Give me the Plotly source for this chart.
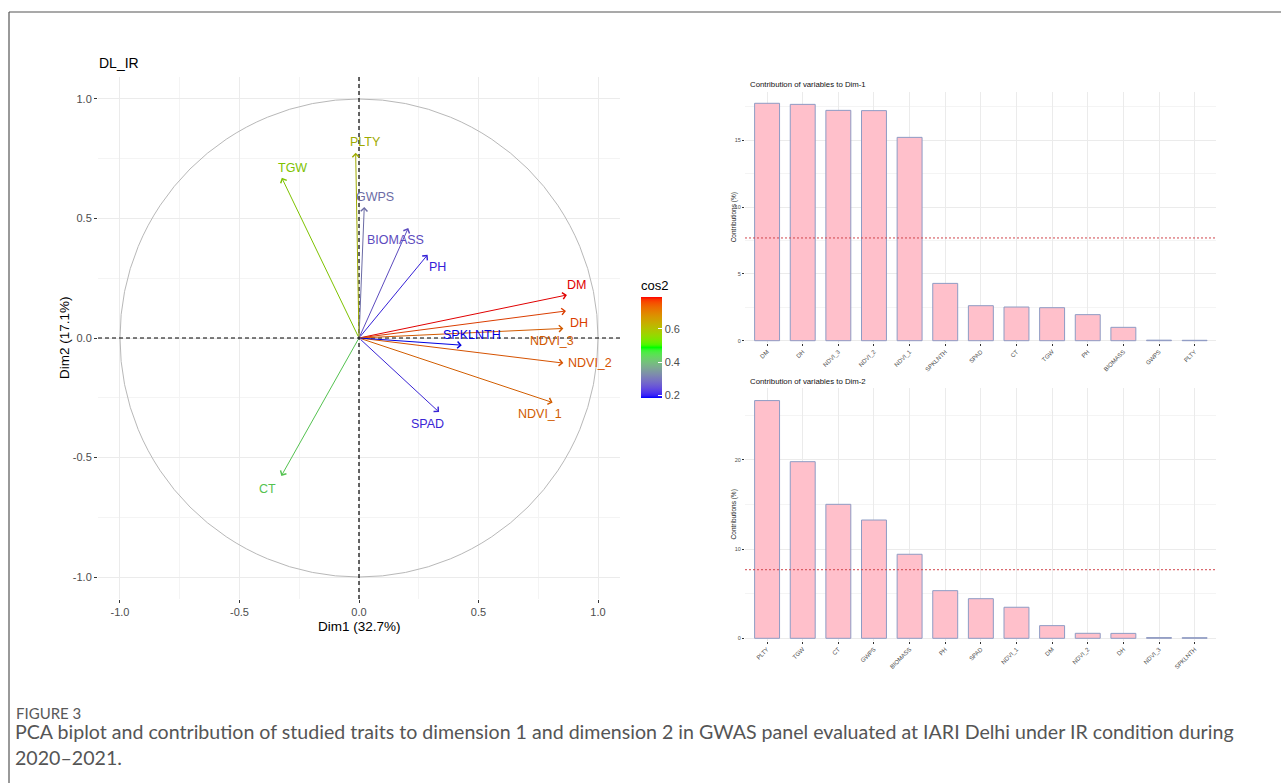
import numpy as np
import plotly.graph_objects as go

# ---------------- data ----------------
variables = ["DM", "DH", "NDVI_3", "NDVI_2", "NDVI_1", "SPKLNTH", "SPAD",
             "CT", "TGW", "PH", "BIOMASS", "GWPS", "PLTY"]
dim1_coord = [0.870, 0.866, 0.855, 0.855, 0.810, 0.430, 0.335,
              -0.325, -0.323, 0.287, 0.206, 0.022, -0.014]
dim2_coord = [0.180, 0.113, 0.040, -0.105, -0.270, -0.030, -0.310,
              -0.577, 0.670, 0.348, 0.460, 0.548, 0.775]

contrib1_vars = ["DM", "DH", "NDVI_3", "NDVI_2", "NDVI_1", "SPKLNTH", "SPAD",
                 "CT", "TGW", "PH", "BIOMASS", "GWPS", "PLTY"]
contrib1_vals = [17.77, 17.69, 17.24, 17.22, 15.22, 4.29, 2.62,
                 2.52, 2.47, 1.95, 1.00, 0.04, 0.03]

contrib2_vars = ["PLTY", "TGW", "CT", "GWPS", "BIOMASS", "PH", "SPAD",
                 "NDVI_1", "DM", "NDVI_2", "DH", "NDVI_3", "SPKLNTH"]
contrib2_vals = [26.65, 19.80, 15.02, 13.26, 9.42, 5.34, 4.44,
                 3.48, 1.42, 0.56, 0.55, 0.08, 0.07]

expected_contrib = 7.69  # uniform contribution, 100 / 13 variables

# label placement around arrow tips (pixels: right, down)
label_offset = {
    "DM": (10, -10), "DH": (13, 12), "NDVI_3": (-11, 13), "NDVI_2": (27, 0),
    "NDVI_1": (-13, 11), "SPKLNTH": (10, -10), "SPAD": (-12, 12),
    "CT": (-14, 13), "TGW": (11, -10), "PH": (10, 12), "BIOMASS": (-13, 12),
    "GWPS": (11, -10), "PLTY": (10, -11),
}

W, H = 1281, 783


def px_x(p):
    return p / W


def px_y(p):
    return 1 - p / H


# ---------------- colour ramp (blue -> green -> red, Lab interpolation) ----------------
def _to_lin(c):
    c = np.asarray(c, float) / 255.0
    return np.where(c <= 0.04045, c / 12.92, ((c + 0.055) / 1.055) ** 2.4)


def _from_lin(c):
    c = np.clip(c, 0, 1)
    return np.where(c <= 0.0031308, 12.92 * c, 1.055 * c ** (1 / 2.4) - 0.055) * 255


M = np.array([[0.4124, 0.3576, 0.1805],
              [0.2126, 0.7152, 0.0722],
              [0.0193, 0.1192, 0.9505]])
WHITE = np.array([0.95047, 1.0, 1.08883])


def rgb2lab(rgb):
    xyz = M @ _to_lin(rgb) / WHITE
    f = np.where(xyz > 0.008856, np.cbrt(xyz), 7.787 * xyz + 16 / 116)
    return np.array([116 * f[1] - 16, 500 * (f[0] - f[1]), 200 * (f[1] - f[2])])


def lab2rgb(lab):
    fy = (lab[0] + 16) / 116
    fx = fy + lab[1] / 500
    fz = fy - lab[2] / 200
    f = np.array([fx, fy, fz])
    xyz = np.where(f ** 3 > 0.008856, f ** 3, (f - 16 / 116) / 7.787) * WHITE
    return _from_lin(np.linalg.solve(M, xyz))


ramp = [rgb2lab([0, 0, 255]), rgb2lab([0, 255, 0]), rgb2lab([255, 0, 0])]


def ramp_rgb(t):
    t = float(np.clip(t, 0, 1))
    if t <= 0.5:
        a, b, u = ramp[0], ramp[1], t * 2
    else:
        a, b, u = ramp[1], ramp[2], (t - 0.5) * 2
    return lab2rgb(a + (b - a) * u)


def css(rgb, k=1.0):
    r, g, b = (np.asarray(rgb) * k).round().astype(int)
    return f"rgb({r},{g},{b})"


cos2 = [x * x + y * y for x, y in zip(dim1_coord, dim2_coord)]
cmin, cmax = min(cos2), max(cos2)
colorscale = [[float(t), css(ramp_rgb(t))] for t in np.linspace(0, 1, 41)]
# thin strokes drawn a touch darker so they read like the anti-aliased lines
arrow_colors = [css(ramp_rgb((c - cmin) / (cmax - cmin)), 0.88) for c in cos2]

# ---------------- figure ----------------
fig = go.Figure()

GRID = "#EBEBEB"
MINOR = "#F4F4F4"
TICKC = "#4D4D4D"
FONT = "Liberation Sans, Arial, sans-serif"

# biplot panel (pixels)
bx0, bx1, by0, by1 = 98, 620, 77, 599
lim = 1.092

# colour bar carrier (invisible markers)
fig.add_trace(go.Scatter(
    x=dim1_coord, y=dim2_coord, mode="markers", xaxis="x", yaxis="y",
    marker=dict(size=0.1, opacity=0, color=cos2, colorscale=colorscale,
                cmin=cmin, cmax=cmax, showscale=True,
                colorbar=dict(
                    title=dict(text="cos2", side="top",
                               font=dict(size=13, color="#000", family=FONT)),
                    x=px_x(641), xanchor="left", y=px_y(398), yanchor="bottom",
                    lenmode="pixels", len=121, thicknessmode="pixels", thickness=21,
                    outlinewidth=0, ticks="inside", ticklen=4, tickcolor="white",
                    tickvals=[0.2, 0.4, 0.6], ticktext=["0.2", "0.4", "0.6"],
                    tickfont=dict(size=11, color=TICKC, family=FONT), xpad=0, ypad=0,
                )),
    hoverinfo="skip", showlegend=False,
))

# correlation circle
fig.add_shape(type="circle", xref="x", yref="y", x0=-1, y0=-1, x1=1, y1=1,
              line=dict(color="#B8B8B8", width=1), layer="above")
# axes through origin
fig.add_shape(type="line", xref="x", yref="y", x0=-lim, x1=lim, y0=0, y1=0,
              line=dict(color="#000", width=1.2, dash="4px,3px"), layer="above")
fig.add_shape(type="line", xref="x", yref="y", x0=0, x1=0, y0=-lim, y1=lim,
              line=dict(color="#000", width=1.2, dash="4px,3px"), layer="above")

annotations = []
for v, x, y, col in zip(variables, dim1_coord, dim2_coord, arrow_colors):
    annotations.append(dict(
        x=x, y=y, ax=0, ay=0, xref="x", yref="y", axref="x", ayref="y",
        text="", showarrow=True, arrowhead=4, arrowsize=1.3, arrowwidth=1,
        arrowcolor=col, standoff=0,
    ))
    dx, dy = label_offset[v]
    annotations.append(dict(
        x=x, y=y, xref="x", yref="y", text=v, showarrow=False,
        xshift=dx, yshift=-dy, xanchor="center", yanchor="middle",
        font=dict(size=12.5, color=col, family=FONT),
    ))

# biplot texts
annotations += [
    dict(x=px_x(bx0 - 1), y=px_y(63), xref="paper", yref="paper", text="DL_IR",
         showarrow=False, xanchor="left", yanchor="middle",
         font=dict(size=14, color="#000", family=FONT)),
    dict(x=px_x((bx0 + bx1) / 2), y=px_y(626), xref="paper", yref="paper",
         text="Dim1 (32.7%)", showarrow=False, xanchor="center", yanchor="middle",
         font=dict(size=13.5, color="#000", family=FONT)),
    dict(x=px_x(65), y=px_y((by0 + by1) / 2), xref="paper", yref="paper",
         text="Dim2 (17.1%)", showarrow=False, textangle=-90,
         xanchor="center", yanchor="middle",
         font=dict(size=13.5, color="#000", family=FONT)),
]

# ---------------- contribution bar charts ----------------
cx0, cx1 = 745, 1216
panels = [
    # (axis suffix, vars, values, top px, zero px, px per unit, bottom px, title, title y, ticks)
    ("2", contrib1_vars, contrib1_vals, 91.7, 340.7, 13.36, 343.0,
     "Contribution of variables to Dim-1", 84, [0, 5, 10, 15]),
    ("3", contrib2_vars, contrib2_vals, 388.3, 638.3, 8.92, 640.5,
     "Contribution of variables to Dim-2", 381, [0, 10, 20]),
]

layout_axes = {}
for suf, cats, vals, ptop, pzero, ppu, pbot, title, ty, yt in panels:
    xa, ya = "x" + suf, "y" + suf
    fig.add_trace(go.Bar(
        x=list(range(len(cats))), y=vals, xaxis=xa, yaxis=ya, width=0.7,
        marker=dict(color="pink", line=dict(color="#8E9BC4", width=1)),
        hoverinfo="skip", showlegend=False,
    ))
    fig.add_shape(type="line", xref=xa, yref=ya, x0=-0.62, x1=12.6,
                  y0=expected_contrib, y1=expected_contrib,
                  line=dict(color="#D0454C", width=1, dash="2px,2px"), layer="above")
    ymax = (pzero - ptop) / ppu
    ymin = (pzero - pbot) / ppu
    layout_axes["xaxis" + suf] = dict(
        domain=[px_x(cx0), px_x(cx1)], anchor=ya, range=[-0.62, 12.6],
        tickvals=list(range(len(cats))), ticktext=cats, tickangle=-45,
        tickfont=dict(size=6, color=TICKC, family=FONT),
        ticks="outside", ticklen=2, tickcolor="#333", tickwidth=0.8,
        showgrid=True, gridcolor=GRID, gridwidth=0.8, zeroline=False, showline=False,
        fixedrange=True,
    )
    minor_vals = [v + (yt[1] - yt[0]) / 2 for v in yt]
    layout_axes["yaxis" + suf] = dict(
        domain=[px_y(pbot), px_y(ptop)], anchor=xa, range=[ymin, ymax],
        tickvals=yt, ticktext=[str(v) for v in yt],
        tickfont=dict(size=5.5, color=TICKC, family=FONT),
        ticks="outside", ticklen=2, tickcolor="#333", tickwidth=0.8,
        showgrid=True, gridcolor=GRID, gridwidth=0.8, zeroline=False, showline=False,
        minor=dict(tickvals=minor_vals, showgrid=True, gridcolor=MINOR, gridwidth=0.8,
                   ticks=""),
        fixedrange=True,
    )
    annotations.append(dict(
        x=px_x(748), y=px_y(ty), xref="paper", yref="paper", text=title,
        showarrow=False, xanchor="left", yanchor="middle",
        font=dict(size=7.8, color="#111", family=FONT)))
    annotations.append(dict(
        x=px_x(734), y=px_y((ptop + pbot) / 2), xref="paper", yref="paper",
        text="Contributions (%)", showarrow=False, textangle=-90,
        xanchor="center", yanchor="middle",
        font=dict(size=6.5, color="#222", family=FONT)))

# ---------------- caption ----------------
CAPF = "Lato, Noto Sans, sans-serif"
annotations += [
    dict(x=px_x(14), y=px_y(713), xref="paper", yref="paper", text="FIGURE 3",
         showarrow=False, xanchor="left", yanchor="middle",
         font=dict(size=15, color="#595959", family=CAPF)),
    dict(x=px_x(13), y=px_y(731), xref="paper", yref="paper",
         text="PCA biplot and contribution of studied traits to dimension 1 and dimension 2 "
              "in GWAS panel evaluated at IARI Delhi under IR condition during",
         showarrow=False, xanchor="left", yanchor="middle",
         font=dict(size=19.6, color="#555555", family=CAPF)),
    dict(x=px_x(13), y=px_y(757), xref="paper", yref="paper", text="2020\u20132021.",
         showarrow=False, xanchor="left", yanchor="middle",
         font=dict(size=19.6, color="#555555", family=CAPF)),
]

# outer frame
fig.add_shape(type="line", xref="paper", yref="paper", x0=px_x(9), x1=1,
              y0=px_y(12), y1=px_y(12), line=dict(color="#555", width=1.2))
fig.add_shape(type="line", xref="paper", yref="paper", x0=px_x(9), x1=px_x(9),
              y0=px_y(12), y1=0, line=dict(color="#555", width=1.2))

ticks = [-1.0, -0.5, 0.0, 0.5, 1.0]
fig.update_layout(
    width=W, height=H, margin=dict(l=0, r=0, t=0, b=0),
    paper_bgcolor="white", plot_bgcolor="white",
    font=dict(family=FONT),
    xaxis=dict(
        domain=[px_x(bx0), px_x(bx1)], anchor="y", range=[-lim, lim],
        tickvals=ticks, ticktext=[f"{t:.1f}" for t in ticks],
        tickfont=dict(size=11, color=TICKC, family=FONT),
        ticks="outside", ticklen=3, tickcolor="#333",
        showgrid=True, gridcolor=GRID, zeroline=False, showline=False,
        minor=dict(tickvals=[-0.75, -0.25, 0.25, 0.75], showgrid=True,
                   gridcolor=MINOR, ticks=""),
        fixedrange=True,
    ),
    yaxis=dict(
        domain=[px_y(by1), px_y(by0)], anchor="x", range=[-lim, lim],
        tickvals=ticks, ticktext=[f"{t:.1f}" for t in ticks],
        tickfont=dict(size=11, color=TICKC, family=FONT),
        ticks="outside", ticklen=3, tickcolor="#333",
        showgrid=True, gridcolor=GRID, zeroline=False, showline=False,
        minor=dict(tickvals=[-0.75, -0.25, 0.25, 0.75], showgrid=True,
                   gridcolor=MINOR, ticks=""),
        fixedrange=True,
    ),
    annotations=annotations,
    bargap=0.3,
)
fig.update_layout(**layout_axes)

fig.write_html("out.html")
